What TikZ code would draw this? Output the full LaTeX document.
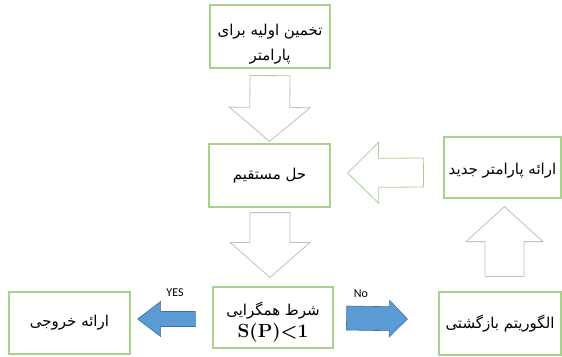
\documentclass[tikz,border=0pt]{standalone}
\usepackage{fontspec}
\usepackage{tikz}
\usetikzlibrary{calc}
\TeXXeTstate=1
\newfontfamily\persianfont[Script=Arabic]{DejaVu Sans}
\newfontfamily\labelfont{Carlito}
\definecolor{boxgreen}{RGB}{169,209,142}
\definecolor{arrowblue}{RGB}{91,155,213}
\definecolor{arrowblueline}{RGB}{65,113,156}
\definecolor{arrowgray}{RGB}{191,191,191}

\tikzset{
  stepbox/.style={draw=boxgreen, line width=1.2pt, minimum width=121pt, minimum height=63pt,
    align=center, inner sep=2pt, font=\persianfont\fontsize{15}{25}\selectfont},
  hollowarrow/.style={draw=arrowgray, line width=0.8pt, fill=white},
  greenarrow/.style={draw=boxgreen, line width=0.8pt, fill=white},
  bluearrow/.style={draw=arrowblueline, line width=0.6pt, fill=arrowblue},
  flaglabel/.style={font=\labelfont\fontsize{12}{14}\selectfont, inner sep=1pt}
}

% block arrow: [style]{from}{to}{shaft half width}{head half width}{head length}
\newcommand{\blockarrow}[6][]{%
  \coordinate (ba-c) at ($(#3)!#6!(#2)$);
  \draw[#1] ($(#2)!#4!90:(#3)$) -- ($(ba-c)!#4!90:(#3)$) -- ($(ba-c)!#5!90:(#3)$) -- (#3)
    -- ($(ba-c)!#5!-90:(#3)$) -- ($(ba-c)!#4!-90:(#3)$) -- ($(#2)!#4!-90:(#3)$) -- cycle;}

\begin{document}
\begin{tikzpicture}[x=1pt, y=-1pt]
  \useasboundingbox (0,0) rectangle (562,356);

  % boxes
  \node[stepbox, minimum width=120pt] (init) at (270,36.5)
    {\rule{0pt}{26pt}\beginR تخمین اولیه برای\endR\\ \beginR پارامتر\endR};
  \node[stepbox] (solve) at (269.5,175.5) {\beginR حل مستقیم\endR};
  \node[stepbox, minimum width=120pt, minimum height=61pt] (check) at (273,317.5)
    {\rule{0pt}{22pt}\beginR شرط همگرایی\endR\\[-3pt] {\normalfont\bfseries\fontsize{19}{20}\selectfont S(P)<1}};
  \node[stepbox, minimum height=62pt] (output) at (69.5,323) {\beginR ارائه خروجی\endR};
  \node[stepbox, minimum width=117pt, minimum height=61pt] (update) at (502.5,167.5)
    {\rule{0pt}{18pt}\beginR ارائه پارامتر جدید\endR};
  \node[stepbox, minimum width=122pt] (recur) at (500,323.5) {\beginR الگوریتم بازگشتی\endR};

  % labels
  \node[flaglabel] (yeslabel) at (175,293) {YES};
  \node[flaglabel] (nolabel) at (361,294) {No};

  % arrow ends
  \coordinate (a1s) at ($(init.south)+(0,7)$);
  \coordinate (a1e) at ($(solve.north)+(0,-2)$);
  \coordinate (a2s) at ($(solve.south)+(0.5,5)$);
  \coordinate (a2e) at ($(check.north)+(-3,-9)$);
  \coordinate (a3s) at ($(update.west)+(-20,5)$);
  \coordinate (a3e) at ($(solve.east)+(17,-2.5)$);
  \coordinate (a4s) at ($(recur.north)+(4.5,-15)$);
  \coordinate (a4e) at ($(update.south)+(2,8)$);
  \coordinate (a5s) at ($(check.east)+(13,0.5)$);
  \coordinate (a5e) at ($(recur.west)+(-31,-4.5)$);
  \coordinate (a6s) at ($(check.west)+(-17,1.5)$);
  \coordinate (a6e) at ($(output.east)+(7,-4)$);

  % block arrows
  \blockarrow[hollowarrow]{a1s}{a1e}{20pt}{40.5pt}{34pt}
  \blockarrow[hollowarrow]{a2s}{a2e}{20pt}{40pt}{35pt}
  \blockarrow[greenarrow]{a3s}{a3e}{14.5pt}{30.5pt}{31pt}
  \blockarrow[hollowarrow]{a4s}{a4e}{19.5pt}{38.5pt}{35pt}
  \blockarrow[bluearrow]{a5s}{a5e}{12pt}{18.3pt}{18pt}
  \blockarrow[bluearrow]{a6s}{a6e}{7.5pt}{17.5pt}{23pt}
\end{tikzpicture}
\end{document}
